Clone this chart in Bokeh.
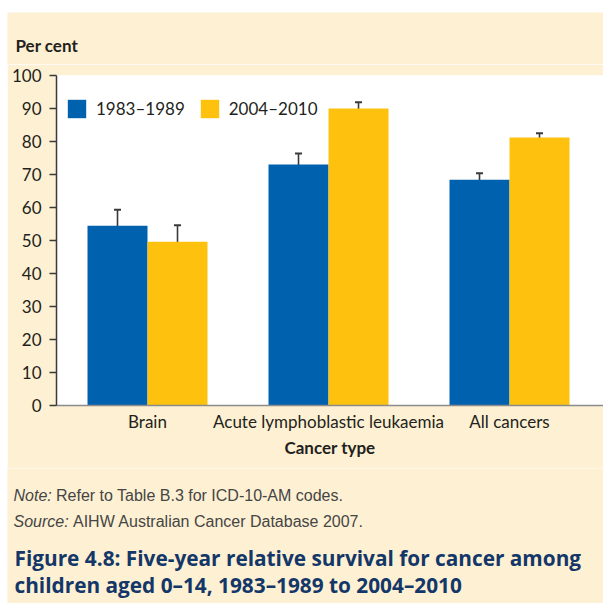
import numpy as np
from bokeh.plotting import figure
from bokeh.models import (ColumnDataSource, Range1d, FixedTicker, Label, Whisker,
                          TeeHead, Legend, LegendItem, Spacer)
from bokeh.layouts import column, row
from bokeh.embed import file_html
from bokeh.resources import INLINE

# ---------------- data ----------------
categories = ["Brain", "Acute lymphoblastic leukaemia", "All cancers"]
series_names = ["1983–1989", "2004–2010"]
values_1983 = [54.5, 73.0, 68.4]
lower_1983 = [49.4, 68.8, 66.3]
upper_1983 = [59.3, 76.4, 70.4]
values_2004 = [49.6, 90.0, 81.2]
lower_2004 = [44.7, 88.1, 79.6]
upper_2004 = [54.6, 91.9, 82.5]
y_ticks = [0, 10, 20, 30, 40, 50, 60, 70, 80, 90, 100]

y_title = "Per cent"
x_title = "Cancer type"
note_lead = "Note:"
note_text = "Refer to Table B.3 for ICD-10-AM codes."
source_lead = "Source:"
source_text = "AIHW Australian Cancer Database 2007."
fig_title_1 = "Figure 4.8: Five-year relative survival for cancer among"
fig_title_2 = "children aged 0–14, 1983–1989 to 2004–2010"

# ---------------- style ----------------
NARROW = "Lato"
SANS = "Liberation Sans"
TITLE_FONT = "Open Sans"
FS = "17px"
CREAM = "#FEF0D2"
BLUE = "#0061AF"
YELLOW = "#FEC20E"
TXT = "#231F20"
NOTE_C = "#454545"
NAVY = "#133768"
ERR = "#3A3A3A"
W = 596


def text_panel(height):
    f = figure(width=W, height=height, output_backend="svg", toolbar_location=None,
               x_range=Range1d(0, 1), y_range=Range1d(0, 1),
               x_axis_type=None, y_axis_type=None, frame_align=False,
               min_border=0, min_border_left=0, min_border_right=0,
               min_border_top=0, min_border_bottom=0)
    f.grid.visible = False
    f.outline_line_color = None
    f.background_fill_color = CREAM
    f.border_fill_color = CREAM
    return f


def lab(f, x, y, text, font, size, color, style="normal"):
    f.add_layout(Label(x=x, y=y, x_units="screen", y_units="screen", text=text,
                       text_font=font, text_font_size=size, text_color=color,
                       text_font_style=style, text_baseline="alphabetic",
                       text_align="left"))


# ---------------- header ----------------
head = text_panel(52)
lab(head, 8, 19.3, y_title, NARROW, FS, TXT, "bold")

# ---------------- main chart ----------------
bar_w = 0.3315
idx = np.arange(len(categories))

p = figure(width=W, height=404, output_backend="svg", toolbar_location=None,
           x_range=Range1d(-0.5028, 2.5193), y_range=Range1d(0, 100),
           min_border_left=49, min_border_right=0, min_border_top=11,
           min_border_bottom=63, frame_align=False)
p.background_fill_color = "white"
p.border_fill_color = CREAM
p.outline_line_color = None
p.xgrid.visible = False
p.ygrid.visible = False

src_a = ColumnDataSource(dict(x=idx - bar_w / 2, top=values_1983, lo=lower_1983, hi=upper_1983))
src_b = ColumnDataSource(dict(x=idx + bar_w / 2, top=values_2004, lo=lower_2004, hi=upper_2004))

ra = p.vbar(x="x", top="top", width=bar_w, bottom=0, source=src_a, fill_color=BLUE, line_color=None)
rb = p.vbar(x="x", top="top", width=bar_w, bottom=0, source=src_b, fill_color=YELLOW, line_color=None)

for src in (src_a, src_b):
    halo = Whisker(base="x", lower="lo", upper="hi", source=src, line_color="white", line_width=4,
                   upper_head=TeeHead(size=10, line_color="white", line_width=4),
                   lower_head=TeeHead(size=10, line_color="white", line_width=4))
    w = Whisker(base="x", lower="lo", upper="hi", source=src, line_color=ERR, line_width=1.6,
                upper_head=TeeHead(size=7, line_color=ERR, line_width=2),
                lower_head=TeeHead(size=7, line_color=ERR, line_width=2))
    p.add_layout(halo)
    p.add_layout(w)

yax = p.yaxis[0]
yax.ticker = FixedTicker(ticks=y_ticks)
yax.minor_tick_line_color = None
yax.major_tick_in = 0
yax.major_tick_out = 7
yax.major_tick_line_color = ERR
yax.major_tick_line_width = 1.4
yax.axis_line_color = ERR
yax.axis_line_width = 1.5
yax.major_label_standoff = 8
yax.major_label_text_font = NARROW
yax.major_label_text_font_size = FS
yax.major_label_text_color = TXT

xax = p.xaxis[0]
xax.ticker = FixedTicker(ticks=list(idx))
xax.major_label_overrides = {int(i): c for i, c in zip(idx, categories)}
xax.minor_tick_line_color = None
xax.major_tick_line_color = None
xax.major_tick_in = 0
xax.major_tick_out = 0
xax.axis_line_color = "#8C8C8C"
xax.axis_line_width = 1.5
xax.major_label_standoff = 5
xax.major_label_text_font = NARROW
xax.major_label_text_font_size = FS
xax.major_label_text_color = TXT
xax.axis_label = x_title
xax.axis_label_text_font = NARROW
xax.axis_label_text_font_style = "bold"
xax.axis_label_text_font_size = FS
xax.axis_label_text_color = TXT
xax.axis_label_standoff = 2

legend = Legend(items=[LegendItem(label=series_names[0], renderers=[ra]),
                       LegendItem(label=series_names[1], renderers=[rb])],
                orientation="horizontal", location=(9, 285.5),
                padding=0, margin=0, spacing=13, label_standoff=8,
                glyph_width=23, glyph_height=23, label_height=23,
                border_line_color=None, background_fill_alpha=0,
                label_text_font=NARROW, label_text_font_size=FS,
                label_text_color=TXT)
p.add_layout(legend, "center")

# ---------------- footer ----------------
foot = text_panel(135)
lab(foot, 6, 108, note_lead, SANS, "16px", NOTE_C, "italic")
lab(foot, 48.5, 108, note_text, SANS, "16px", NOTE_C)
lab(foot, 6, 82, source_lead, SANS, "16px", NOTE_C, "italic")
lab(foot, 65.5, 82, source_text, SANS, "16px", NOTE_C)
lab(foot, 7, 45.5, fig_title_1, TITLE_FONT, "20.8px", NAVY, "bold")
lab(foot, 7, 18.5, fig_title_2, TITLE_FONT, "20.8px", NAVY, "bold")

layout = row(Spacer(width=7, height=603),
             column(Spacer(height=12, width=W), head, p, foot, spacing=0),
             spacing=0)
open("out.html", "w").write(file_html(layout, INLINE))
